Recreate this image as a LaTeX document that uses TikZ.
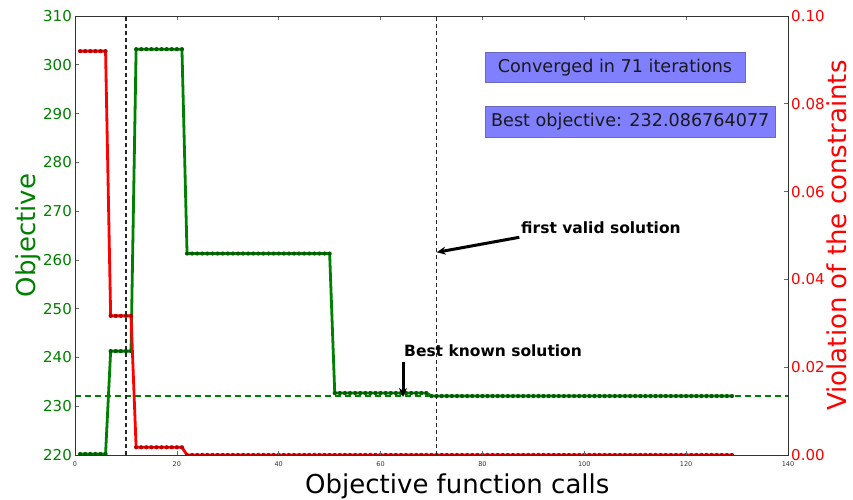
\documentclass[tikz,border=0pt]{standalone}
\usepackage{fontspec}
\setmainfont{DejaVu Sans}
\usetikzlibrary{arrows.meta}
\definecolor{mgreen}{rgb}{0,0.5,0}
\definecolor{mgreendot}{rgb}{0,0.36,0}
\definecolor{mred}{rgb}{1,0,0}
\definecolor{mreddot}{rgb}{0.72,0,0}
\definecolor{boxfill}{RGB}{128,128,255}
\definecolor{boxedge}{RGB}{105,105,190}
\tikzset{
  gline/.style={mgreen, line width=2.8pt, line join=round},
  rline/.style={mred, line width=2.8pt, line join=round},
  gdot/.style={fill=mgreendot},
  rdot/.style={fill=mreddot},
  vdash/.style={black!85, line width=1.3pt, dash pattern=on 4pt off 3pt},
  hdash/.style={mgreen, line width=1.2pt, dash pattern=on 6pt off 4pt},
  tickl/.style={black!60, line width=0.6pt},
  infobox/.style={fill=boxfill, draw=boxedge, line width=0.8pt, inner sep=0pt,
    font=\fontsize{17.6}{20}\selectfont, text=black!90},
  annot/.style={font=\fontsize{15.5}{18}\bfseries\selectfont, text=black},
  annarrow/.style={line width=3pt, -{Stealth[length=9pt,width=8pt]}},
}
\begin{document}
\begin{tikzpicture}[x=1pt,y=1pt]
\useasboundingbox (0,0) rectangle (853,499);
\fill[white] (0,0) rectangle (853,499);

% data
\begin{scope}
\clip (75,44) rectangle (788,483);
% green (objective), y offset 220
\begin{scope}[shift={(75pt,44pt)}, x=5.09286pt, y=4.87778pt]
  \draw[hdash] (0,12.087) -- (140,12.087);
  \draw[gline] (1,0.2) -- (6,0.2) -- (7,21.3) -- (11,21.3) -- (12,83.2) -- (21,83.2)
     -- (22,41.3) -- (50,41.3) -- (51,12.7) -- (69,12.7) -- (70,12.087) -- (129,12.087);
  \foreach \i in {1,...,6} \fill[gdot] (\i,0.2) circle[radius=2.1pt];
  \foreach \i in {7,...,11} \fill[gdot] (\i,21.3) circle[radius=2.1pt];
  \foreach \i in {12,...,21} \fill[gdot] (\i,83.2) circle[radius=2.1pt];
  \foreach \i in {22,...,50} \fill[gdot] (\i,41.3) circle[radius=2.1pt];
  \foreach \i in {51,...,69} \fill[gdot] (\i,12.7) circle[radius=2.1pt];
  \foreach \i in {70,...,129} \fill[gdot] (\i,12.087) circle[radius=2.1pt];
\end{scope}
% red (violation)
\begin{scope}[shift={(75pt,44pt)}, x=5.09286pt, y=4390pt]
  \draw[rline] (1,0.0920) -- (6,0.0920) -- (7,0.0317) -- (11,0.0317) -- (12,0.00175)
     -- (21,0.00175) -- (22,0) -- (129,0);
  \foreach \i in {1,...,6} \fill[rdot] (\i,0.0920) circle[radius=2.1pt];
  \foreach \i in {7,...,11} \fill[rdot] (\i,0.0317) circle[radius=2.1pt];
  \foreach \i in {12,...,21} \fill[rdot] (\i,0.00175) circle[radius=2.1pt];
  \foreach \i in {22,...,129} \fill[rdot] (\i,0) circle[radius=2.1pt];
\end{scope}
\draw[vdash] (75+10*5.09286,44) -- (75+10*5.09286,483);
\draw[vdash] (75+71*5.09286,44) -- (75+71*5.09286,483);
\end{scope}

% frame and ticks
\foreach \v in {0,20,...,140}{
  \draw[tickl] (75+\v*5.09286,44) -- (75+\v*5.09286,48);
  \draw[tickl] (75+\v*5.09286,483) -- (75+\v*5.09286,479);
  \node[font=\fontsize{6.5}{7}\selectfont, text=black!80] (xl\v) at (75+\v*5.09286,35) {\v};
}
\foreach \v [count=\k] in {220,230,...,310}{
  \draw[tickl] (75,{44+(\v-220)*4.87778}) -- (79,{44+(\v-220)*4.87778});
  \node[anchor=east, text=mgreen, font=\fontsize{15}{17}\selectfont, inner sep=0pt]
    (yl\k) at (72,{44+(\v-220)*4.87778}) {\v};
}
\foreach \v/\lab [count=\k] in {0/0.00,0.02/0.02,0.04/0.04,0.06/0.06,0.08/0.08,0.1/0.10}{
  \draw[tickl] (788,{44+\v*4390}) -- (784,{44+\v*4390});
  \node[anchor=west, text=mred, font=\fontsize{15}{17}\selectfont, inner sep=0pt]
    (yr\k) at (791,{44+\v*4390}) {\lab};
}
\draw[black!80, line width=0.8pt] (75,44) rectangle (788,483);

% axis labels
\node[rotate=90, text=mgreen, font=\fontsize{26}{30}\selectfont, inner sep=0pt] (ylab) at (28,263.5) {Objective};
\node[rotate=90, text=mred, font=\fontsize{26}{30}\selectfont, inner sep=0pt] (yrlab) at (837,263.5) {Violation of the constraints};
\node[anchor=base west, font=\fontsize{26}{30}\selectfont, inner sep=0pt] (xlab) at (305,6) {Objective function calls};

% info boxes
\node[infobox, minimum width=260pt, minimum height=30pt] (conv) at (615,431.7) {Converged in 71 iterations};
\node[infobox, minimum width=290.7pt, minimum height=30.6pt] (best) at (630.3,377) {Best objective: 232.086764077};

% annotations
\node[annot, anchor=base west, inner sep=0pt] (fvs) at (521,265.7) {first valid solution};
\coordinate (fvsfrom) at (519.3,261.7);
\coordinate (fvsto) at (436.7,246.7);
\draw[annarrow] (fvsfrom) -- (fvsto);
\node[annot, anchor=base west, inner sep=0pt] (bks) at (404,142.3) {Best known solution};
\coordinate (bksfrom) at (403,137);
\coordinate (bksto) at (403,102);
\draw[annarrow] (bksfrom) -- (bksto);
\end{tikzpicture}
\end{document}
